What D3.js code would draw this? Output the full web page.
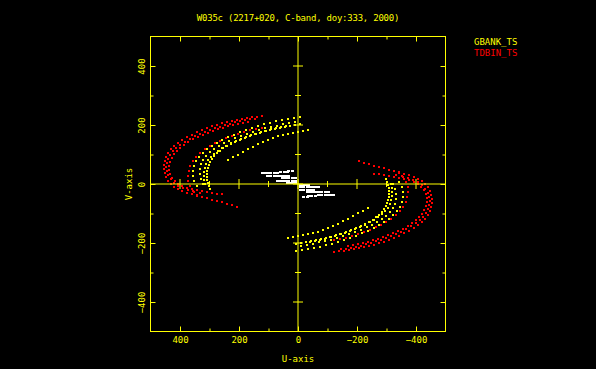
<!DOCTYPE html>
<meta charset="utf-8">
<html>
<head>
<script src="https://d3js.org/d3.v7.min.js"></script>
<style>
  body { margin: 0; background: #000; }
  text { font-family: "DejaVu Sans Mono", monospace; font-size: 9px; }
</style>
</head>
<body>
<script>
// chart text and ticks
var title = "W035c (2217+020, C-band, doy:333, 2000)";
var uTicks = [400, 200, 0, -200, -400];
var vTicks = [-400, -200, 0, 200, 400];
var uMinor = [300, 100, -100, -300];
var vMinor = [-300, -100, 100, 300];

// uv tracks, [u, v]; the conjugate (-u,-v) is plotted too
var gbank1 = [[237,81],[220,92],[203,98],[186,108],[170,119],[153,125],[136,136],[119,142],[102,149],[85,156],[68,163],[51,166],[34,170],[17,173],[0,176],[-17,180],[-34,183]];
var gbank2 = [[342,-7],[353,10],[356,27],[356,44],[353,61],[346,78],[336,92],[322,105],[308,119],[292,129],[275,139],[258,149],[237,159],[217,166],[197,176],[176,183],[156,190],[136,197],[115,203],[95,207],[75,214],[54,217],[34,220],[14,224],[-7,227]];
var gbank3 = [[322,0],[329,17],[332,34],[332,51],[329,68],[322,81],[312,95],[298,108],[285,119],[268,129],[251,139],[234,146],[214,156],[193,163],[173,170],[153,176],[132,183],[112,190],[92,193],[71,197],[51,203],[31,207],[10,210]];
var gbank4 = [[298,-17],[302,-7],[305,3],[308,14],[308,24],[308,34],[308,44],[305,54],[302,64],[298,75],[292,85],[285,95],[275,105],[264,112],[254,122],[241,129],[227,136],[214,142],[197,149],[180,156],[163,163],[146,170],[129,173],[112,180],[95,183],[78,186],[61,190],[44,193],[27,197],[10,200],[-7,203]];
var gbank5 = [[315,0],[319,14],[319,27],[319,41],[315,54],[312,68],[305,81],[295,92],[285,102],[271,112],[258,122],[244,129],[227,139],[210,146],[193,153],[176,159],[159,166],[142,170],[125,176],[108,180],[92,186],[75,190],[58,193],[41,197]];

var tdbin1 = [[207,-78],[224,-71],[241,-68],[258,-61],[275,-58],[292,-54],[308,-47],[325,-44],[342,-41],[359,-34],[376,-31],[393,-24],[407,-17],[420,-10],[431,0],[441,10],[447,24],[451,37],[454,51],[454,64],[451,78],[447,92],[441,105],[431,119],[420,129],[407,139],[393,149],[376,159],[359,166],[342,176],[325,183],[308,190],[292,197],[275,200],[258,207],[241,210],[224,214],[207,217],[190,220],[173,224],[156,227],[139,227],[122,231]];
var tdbin2 = [[258,-34],[275,-34],[292,-31],[308,-27],[325,-24],[342,-20],[359,-17],[376,-14],[393,-7],[407,0],[417,10],[427,20],[434,34],[437,47],[437,61],[434,75],[427,88],[420,102],[410,112],[400,122],[386,132],[373,142],[356,153],[339,159],[322,166],[305,173],[288,180],[271,186],[254,190],[237,197],[220,200],[203,203],[186,207],[170,210]];
var tdbin3 = [[342,-37],[356,-24],[366,-7],[373,10],[373,27],[370,44],[366,61],[356,78],[346,92],[332,105],[315,119],[298,129],[281,139],[264,146],[244,156],[224,163],[203,170],[183,176],[163,183],[142,186],[122,190]];
var tdbin4 = [[332,-31],[353,-27],[373,-20],[390,-14],[407,-7],[420,3],[431,17],[441,31],[444,44],[447,58],[444,71],[441,85],[434,98],[424,112],[414,122],[400,132],[383,142],[366,153],[349,163],[332,170],[315,176],[298,183],[281,190],[264,193],[247,200],[231,203],[214,210],[197,214],[180,217],[163,220],[146,220]];

var short1 = [[122,37],[112,37],[102,37],[92,37],[81,37],[71,37],[58,41],[47,41],[37,41],[31,44],[20,44]];
var short2 = [[102,27],[92,27],[81,27],[71,27],[61,27],[51,27],[41,27],[31,27]];
var short3 = [[51,20],[41,20],[31,20],[20,20],[10,20]];
var short4 = [[71,10],[61,10],[51,10],[41,10],[31,10],[20,10],[10,10],[37,3],[27,3],[17,3],[7,3]];

var series = [
  {color: "#ffffff", w: 3, h: 2, tracks: [short1, short2, short3, short4]},
  {color: "#ffff00", w: 2, h: 2, tracks: [gbank1, gbank2, gbank3, gbank4, gbank5]},
  {color: "#ff0000", w: 2, h: 2, tracks: [tdbin1, tdbin2, tdbin3, tdbin4]}
];
var legend = [{name: "GBANK_TS", color: "#ffff00"}, {name: "TDBIN_TS", color: "#ff0000"}];

var W = 596, H = 369;
var svg = d3.select("body").append("svg").attr("width", W).attr("height", H);
svg.append("rect").attr("width", W).attr("height", H).attr("fill", "#000");

var x = d3.scaleLinear().domain([500, -500]).range([150.5, 445.5]);
var y = d3.scaleLinear().domain([-500, 500]).range([331.5, 36.5]);
var yel = "#ffff00";

// points
series.forEach(function(s) {
  var pts = [];
  s.tracks.forEach(function(t) {
    t.forEach(function(p) { pts.push(p); pts.push([-p[0], -p[1]]); });
  });
  svg.append("g").selectAll("rect").data(pts).enter().append("rect")
    .attr("x", function(d) { return Math.round(x(d[0]) - s.w / 2); })
    .attr("y", function(d) { return Math.round(y(d[1]) - s.h / 2); })
    .attr("width", s.w).attr("height", s.h)
    .attr("fill", s.color);
});

// frame
svg.append("rect")
  .attr("x", x(500)).attr("y", y(500))
  .attr("width", x(-500) - x(500)).attr("height", y(-500) - y(500))
  .attr("fill", "none").attr("stroke", yel);

function styleAxis(g) {
  g.select(".domain").remove();
  g.selectAll("line").attr("stroke", yel);
  g.selectAll("text").attr("fill", yel);
  g.attr("font-family", null).attr("font-size", null);
}

// bottom
svg.append("g").attr("transform", "translate(0," + y(-500) + ")")
  .call(d3.axisBottom(x).tickValues(uTicks).tickSizeInner(-5).tickSizeOuter(0).tickPadding(5))
  .call(styleAxis);
svg.append("g").attr("transform", "translate(0," + y(-500) + ")")
  .call(d3.axisBottom(x).tickValues(uMinor).tickSizeInner(-3).tickSizeOuter(0).tickFormat(""))
  .call(styleAxis);
// top
svg.append("g").attr("transform", "translate(0," + y(500) + ")")
  .call(d3.axisTop(x).tickValues(uTicks).tickSizeInner(-5).tickSizeOuter(0).tickFormat(""))
  .call(styleAxis);
svg.append("g").attr("transform", "translate(0," + y(500) + ")")
  .call(d3.axisTop(x).tickValues(uMinor).tickSizeInner(-3).tickSizeOuter(0).tickFormat(""))
  .call(styleAxis);
// left
svg.append("g").attr("transform", "translate(" + x(500) + ",0)")
  .call(d3.axisLeft(y).tickValues(vTicks).tickSizeInner(-5).tickSizeOuter(0))
  .call(styleAxis)
  .selectAll("text")
  .attr("transform", "rotate(-90)")
  .attr("x", 0).attr("y", -5.5).attr("dy", 0)
  .style("text-anchor", "middle");
svg.append("g").attr("transform", "translate(" + x(500) + ",0)")
  .call(d3.axisLeft(y).tickValues(vMinor).tickSizeInner(-3).tickSizeOuter(0).tickFormat(""))
  .call(styleAxis);
// right
svg.append("g").attr("transform", "translate(" + x(-500) + ",0)")
  .call(d3.axisRight(y).tickValues(vTicks).tickSizeInner(-5).tickSizeOuter(0).tickFormat(""))
  .call(styleAxis);
svg.append("g").attr("transform", "translate(" + x(-500) + ",0)")
  .call(d3.axisRight(y).tickValues(vMinor).tickSizeInner(-3).tickSizeOuter(0).tickFormat(""))
  .call(styleAxis);

// zero lines with crossing ticks
var zero = svg.append("g").attr("stroke", yel);
zero.append("line").attr("x1", x(500)).attr("x2", x(-500)).attr("y1", y(0)).attr("y2", y(0));
zero.append("line").attr("x1", x(0)).attr("x2", x(0)).attr("y1", y(500)).attr("y2", y(-500));
uTicks.concat(uMinor).forEach(function(t) {
  var len = (t % 200 === 0) ? 5 : 3;
  zero.append("line").attr("x1", x(t)).attr("x2", x(t)).attr("y1", y(0) - len).attr("y2", y(0) + len);
});
vTicks.concat(vMinor).forEach(function(t) {
  var len = (t % 200 === 0) ? 5 : 3;
  zero.append("line").attr("x1", x(0) - len).attr("x2", x(0) + len).attr("y1", y(t)).attr("y2", y(t));
});

// titles
svg.append("text").attr("x", x(0)).attr("y", 20.5).attr("text-anchor", "middle")
  .attr("letter-spacing", "-0.23px").attr("fill", yel).text(title);
svg.append("text").attr("x", x(0)).attr("y", 362).attr("text-anchor", "middle").attr("fill", yel).text("U-axis");
svg.append("text").attr("transform", "translate(131.5," + y(0) + ") rotate(-90)")
  .attr("text-anchor", "middle").attr("fill", yel).text("V-axis");

// legend
legend.forEach(function(d, i) {
  svg.append("text").attr("x", 474).attr("y", 45 + i * 10.5).attr("fill", d.color).text(d.name);
});
</script>
</body>
</html>
